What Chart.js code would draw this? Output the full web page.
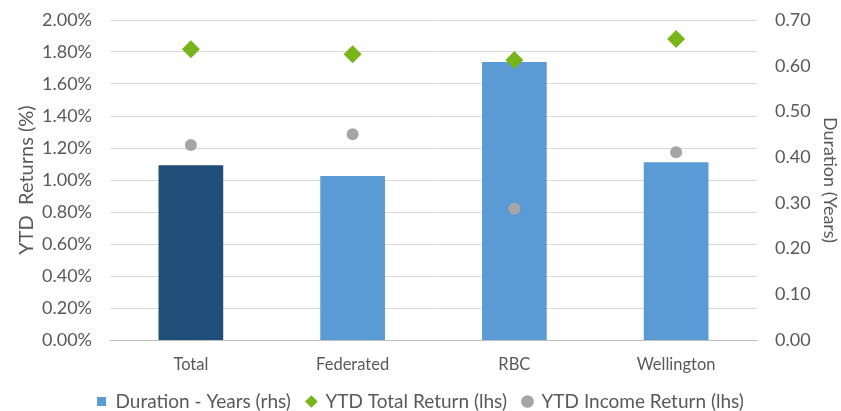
<!DOCTYPE html>
<html>
<head>
<meta charset="utf-8">
<script src="https://cdn.jsdelivr.net/npm/chart.js@4.4.1/dist/chart.umd.min.js"></script>
<style>
  html, body { margin: 0; padding: 0; background: #ffffff; }
  #wrap { width: 841px; height: 411px; position: relative; }
</style>
</head>
<body>
<div id="wrap"><canvas id="c" width="841" height="411"></canvas></div>
<script>
const categories = ['Total', 'Federated', 'RBC', 'Wellington'];
const durationYears = [0.382, 0.359, 0.608, 0.389];
const ytdTotalReturn = [1.817, 1.786, 1.750, 1.881];
const ytdIncomeReturn = [1.219, 1.286, 0.820, 1.173];
const leftTicks = [0, 0.2, 0.4, 0.6, 0.8, 1.0, 1.2, 1.4, 1.6, 1.8, 2.0];
const rightTicks = [0, 0.1, 0.2, 0.3, 0.4, 0.5, 0.6, 0.7];

const FONT = 'Lato, "Open Sans", sans-serif';
const TXT = '#595959';

new Chart(document.getElementById('c'), {
  type: 'bar',
  data: {
    labels: categories,
    datasets: [
      {
        type: 'bar',
        label: 'Duration - Years (rhs)',
        data: durationYears,
        yAxisID: 'yR',
        backgroundColor: ['#1f4e79', '#5b9bd5', '#5b9bd5', '#5b9bd5'],
        borderWidth: 0,
        categoryPercentage: 1.0,
        barPercentage: 0.4,
        pointStyle: 'rect',
        order: 3
      },
      {
        type: 'line',
        label: 'YTD Total Return (lhs)',
        data: ytdTotalReturn,
        yAxisID: 'yL',
        showLine: false,
        pointStyle: 'rectRot',
        pointRadius: 9,
        pointHoverRadius: 9,
        backgroundColor: '#78b51a',
        borderColor: '#78b51a',
        borderWidth: 0,
        order: 1
      },
      {
        type: 'line',
        label: 'YTD Income Return (lhs)',
        data: ytdIncomeReturn,
        yAxisID: 'yL',
        showLine: false,
        pointStyle: 'circle',
        pointRadius: 6,
        pointHoverRadius: 6,
        backgroundColor: '#a5a5a5',
        borderColor: '#a5a5a5',
        borderWidth: 0,
        order: 2
      }
    ]
  },
  options: {
    responsive: false,
    animation: false,
    layout: { padding: { top: 20, left: 0, right: 0, bottom: 0 } },
    plugins: {
      tooltip: { enabled: false },
      legend: {
        position: 'bottom',
        maxHeight: 35,
        labels: {
          usePointStyle: true,
          boxHeight: 9,
          boxWidth: 9,
          padding: 16,
          color: TXT,
          font: { family: FONT, size: 19 },
          sort: (a, b) => a.datasetIndex - b.datasetIndex,
          generateLabels: (chart) => {
            const items = Chart.defaults.plugins.legend.labels.generateLabels(chart);
            items.forEach(it => {
              if (it.datasetIndex === 0) { it.fillStyle = '#5b9bd5'; it.strokeStyle = '#5b9bd5'; }
              it.lineWidth = 0;
            });
            return items;
          }
        }
      }
    },
    scales: {
      x: {
        grid: { display: false, drawTicks: false },
        border: { display: true, color: '#bfbfbf' },
        ticks: { color: TXT, font: { family: FONT, size: 16.5 }, padding: 15 },
        afterFit: (s) => { s.height = 36; s.paddingLeft = 0; s.paddingRight = 0; }
      },
      yL: {
        position: 'left',
        min: 0, max: 2,
        afterBuildTicks: (s) => { s.ticks = leftTicks.map(v => ({ value: v })); },
        ticks: {
          color: TXT, font: { family: FONT, size: 18 }, padding: 18,
          callback: (v) => v.toFixed(2) + '%'
        },
        grid: { color: '#d9d9d9', lineWidth: 1, drawTicks: false },
        border: { display: false },
        title: {
          display: true, text: 'YTD  Returns (%)', color: TXT,
          font: { family: FONT, size: 20 }, padding: { top: 15, bottom: 0 }
        },
        afterFit: (s) => { s.width = 110; s.paddingTop = 0; s.paddingBottom = 0; }
      },
      yR: {
        position: 'right',
        min: 0, max: 0.7,
        afterBuildTicks: (s) => { s.ticks = rightTicks.map(v => ({ value: v })); },
        ticks: {
          color: TXT, font: { family: FONT, size: 18 }, padding: 18,
          callback: (v) => v.toFixed(2)
        },
        grid: { display: false, drawTicks: false },
        border: { display: false },
        title: {
          display: true, text: 'Duration (Years)', color: TXT,
          font: { family: FONT, size: 18 }, padding: { top: 0, bottom: 0 }
        },
        afterFit: (s) => { s.width = 84; s.paddingTop = 0; s.paddingBottom = 0; }
      }
    }
  }
});
</script>
</body>
</html>
